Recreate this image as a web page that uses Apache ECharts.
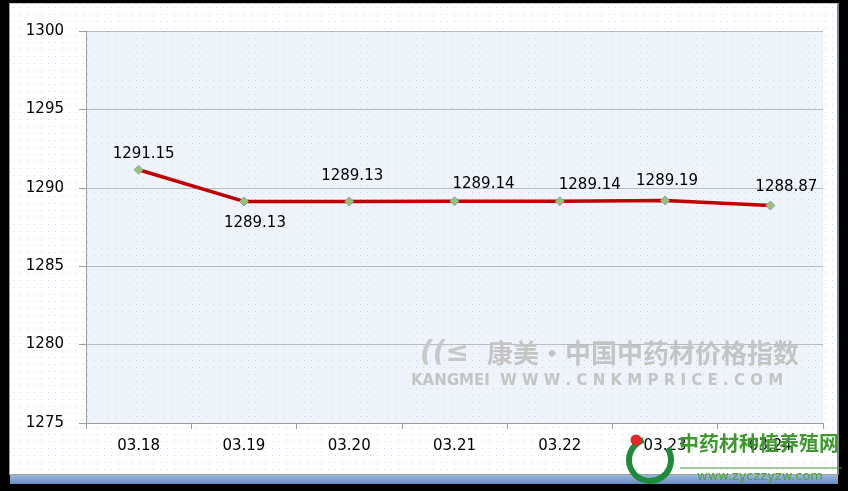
<!DOCTYPE html>
<html>
<head>
<meta charset="utf-8">
<script src="https://cdn.jsdelivr.net/npm/echarts@6/dist/echarts.min.js"></script>
<style>
html,body{margin:0;padding:0;background:#000;}
#wrap{position:relative;width:848px;height:491px;background:#000;overflow:hidden;}
#panel{position:absolute;left:9px;top:3px;width:827px;height:470px;background-color:#fff;
  border-left:1px solid #9a9a9a;border-top:1px solid #c8c8c8;border-right:2px solid #7d8590;border-bottom:1px solid #a0a0a0;}
#strip{position:absolute;left:10px;top:475px;width:828px;height:9px;background:linear-gradient(#9ab6de,#6a8cc4);}
#chart{position:absolute;left:0;top:0;width:848px;height:491px;}
</style>
</head>
<body>
<div id="wrap"><div id="panel"></div><div id="strip"></div><div id="chart"></div></div>
<script>
const categories = ['03.18','03.19','03.20','03.21','03.22','03.23','03.24'];
const values = [1291.15, 1289.13, 1289.13, 1289.14, 1289.14, 1289.19, 1288.87];
const yTicks = [1275, 1280, 1285, 1290, 1295, 1300];
// label offsets (style only)
const labelOffsets = [[5,-16],[11,22],[3,-25],[29,-17],[30,-16],[2,-19],[16,-18]];

function dotPattern(bg, dot){
  const c = document.createElement('canvas');
  c.width = 7; c.height = 7;
  const g = c.getContext('2d');
  g.fillStyle = bg; g.fillRect(0,0,7,7);
  g.fillStyle = dot; g.fillRect(3,3,1,1);
  return c;
}
document.getElementById('panel').style.backgroundImage =
  'url(' + dotPattern('#ffffff', '#c4d8f2').toDataURL() + ')';

const chart = echarts.init(document.getElementById('chart'), null, {renderer:'canvas'});
const FONT = 'DejaVu Sans';
chart.setOption({
  backgroundColor: 'transparent',
  animation: false,
  grid: {left: 86, top: 31, right: 25, bottom: 68, show: true, borderWidth: 0,
         backgroundColor: {image: dotPattern('#eff3fa', '#c2d4ee'), repeat: 'repeat'}},
  xAxis: {
    type: 'category', data: categories, boundaryGap: true,
    axisLine: {lineStyle: {color: '#9c9c9c', width: 1}},
    axisTick: {show: true, length: 6, lineStyle: {color: '#9c9c9c'}},
    axisLabel: {color: '#000', fontFamily: FONT, fontSize: 15, margin: 16}
  },
  yAxis: {
    type: 'value', min: yTicks[0], max: yTicks[yTicks.length-1], interval: 5,
    axisLine: {show: true, lineStyle: {color: '#9c9c9c'}},
    axisTick: {show: true, inside: false, length: 7, lineStyle: {color: '#9c9c9c'}},
    axisLabel: {color: '#000', fontFamily: FONT, fontSize: 15, margin: 22, formatter: v => String(v)},
    splitLine: {show: true, lineStyle: {color: '#b7bcc4', width: 1}}
  },
  series: [{
    type: 'line',
    data: values.map((v,i) => ({value: v, label: {offset: labelOffsets[i]}})),
    lineStyle: {color: '#c00000', width: 3.5},
    symbol: 'diamond', symbolSize: 9,
    itemStyle: {color: '#9bc36a', borderColor: '#7fa0c8', borderWidth: 1},
    label: {show: true, position: 'inside', color: '#000', fontFamily: FONT, fontSize: 15,
            formatter: p => p.value.toFixed(2)},
    z: 3
  }],
  graphic: [
    {type:'text', left: 487, top: 340, z: 1, silent: true,
     style:{text:'康美·中国中药材价格指数', fill:'#c4c4c4', font:'bold 26px "Noto Sans CJK SC"'}},
    {type:'text', left: 411, top: 374, z: 1, silent: true,
     style:{text:'KANGMEI  W W W . C N K M P R I C E . C O M', fill:'#c4c4c4', font:'bold 15px "DejaVu Sans"'}},
    {type:'text', left: 420, top: 340, z: 1, silent: true,
     style:{text:'((≤', fill:'#c8c8c8', font:'italic bold 28px "DejaVu Sans"'}},
    {type:'arc', shape:{cx:650, cy:460, r:21, startAngle: -0.6, endAngle: 4.4}, z: 10, silent: true,
     style:{fill:'none', stroke:'#1f8a3c', lineWidth:6}},
    {type:'circle', shape:{cx:636, cy:440, r:5.5}, z: 11, silent: true,
     style:{fill:'#e8262a'}},
    {type:'text', left: 679, top: 433, z: 10, silent: true,
     style:{text:'中药材种植养殖网', fill:'#3c9a2c', font:'bold 20px "Noto Sans CJK SC"'}},
    {type:'line', shape:{x1:680, y1:468, x2:842, y2:468}, z: 10, silent: true,
     style:{stroke:'#3c9a2c', lineWidth:1}},
    {type:'text', left: 697, top: 470, z: 10, silent: true,
     style:{text:'www.zyczzyzw.com', fill:'#4aa53a', font:'13px "DejaVu Sans"'}}
  ]
});
</script>
</body>
</html>
